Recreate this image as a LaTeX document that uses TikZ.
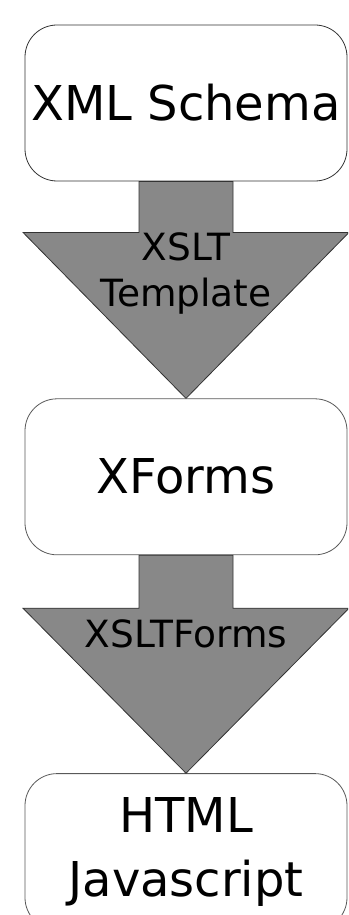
\documentclass[tikz,border=0pt]{standalone}
\usepackage{fontspec}
\setmainfont{DejaVu Sans}
\usetikzlibrary{positioning, calc}
\definecolor{arrowgray}{HTML}{888888}
\tikzset{stage/.style = {%
    draw=black!65, fill=white, line width=0.8pt,
    rounded corners=32pt,
    minimum width=322pt, minimum height=156pt,
    inner sep=0pt, align=center,
    font=\fontsize{48}{64}\selectfont},
  blockarrow/.style = {fill=arrowgray, draw=black!80, line width=0.8pt},
  steplabel/.style = {inner sep=0pt, align=center,
    font=\fontsize{37.5}{46}\selectfont}}

\begin{document}
\begin{tikzpicture}[x=1pt, y=1pt]
\clip (0,0) rectangle (348,-915);
% the three stages
\node [stage, draw=black!80] (schema) at (186,-103) {XML Schema};
\node [stage, below=217pt of schema] (xforms) {XForms};
\node [stage, below=218pt of xforms] (html) {HTML\\Javascript};
% block arrows between the stages
\draw [blockarrow] ([xshift=-47pt]schema.south)
    |- ([xshift=-163pt, yshift=-51pt]schema.south) -- (xforms.north)
    -- ([xshift=163pt, yshift=-51pt]schema.south)
    -| ([xshift=47pt]schema.south) -- cycle;
\draw [blockarrow] ([xshift=-47pt]xforms.south)
    |- ([xshift=-163pt, yshift=-53pt]xforms.south) -- (html.north)
    -- ([xshift=163pt, yshift=-53pt]xforms.south)
    -| ([xshift=47pt]xforms.south) -- cycle;
\node [steplabel, anchor=north] (xslt) at ([yshift=-51pt]schema.south) {XSLT\\Template};
\node [steplabel, anchor=north] (xsltforms) at ([yshift=-64pt]xforms.south) {XSLTForms};
\end{tikzpicture}
\end{document}
